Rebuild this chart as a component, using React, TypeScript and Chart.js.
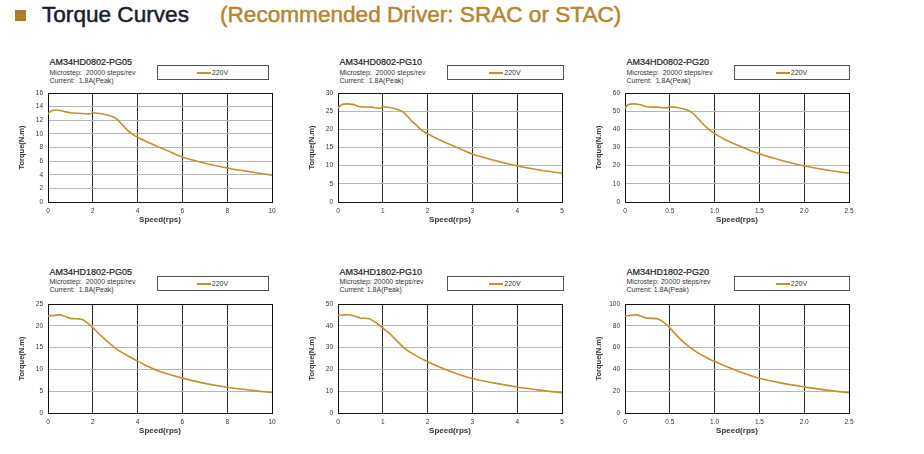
import React, { useEffect, useRef } from "react";
import { Chart, registerables } from "chart.js";

Chart.register(...registerables);

// ---------- data ----------
const speed0802PG05 = [0, 0.15, 0.4, 0.7, 1.0, 1.5, 1.85, 2.0, 2.3, 2.6, 2.9, 3.1, 3.3, 3.5, 3.7, 4.0, 4.5, 5, 5.5, 6, 7, 8, 9, 10];
const torque0802PG05 = [12.9, 13.4, 13.5, 13.3, 13.1, 13.0, 12.9, 13.1, 13.0, 12.8, 12.5, 12.1, 11.4, 10.7, 10.1, 9.5, 8.7, 8.0, 7.3, 6.6, 5.7, 5.0, 4.45, 3.95];

const speed0802PG10 = [0, 0.07, 0.2, 0.35, 0.5, 0.75, 0.93, 1.0, 1.15, 1.3, 1.45, 1.55, 1.65, 1.75, 1.85, 2.0, 2.25, 2.5, 2.75, 3, 3.5, 4, 4.5, 5];
const torque0802PG10 = [25.8, 26.7, 27.0, 26.8, 26.2, 26.1, 25.8, 26.2, 26.0, 25.6, 24.8, 23.6, 22.2, 21.2, 19.9, 18.8, 17.2, 15.8, 14.5, 13.2, 11.4, 9.9, 8.8, 7.9];

const speed0802PG20 = [0, 0.03, 0.1, 0.17, 0.25, 0.35, 0.47, 0.5, 0.58, 0.66, 0.74, 0.8, 0.86, 0.93, 1.0, 1.12, 1.25, 1.5, 1.75, 2.0, 2.25, 2.5];
const torque0802PG20 = [51.5, 53.5, 54.0, 53.5, 52.4, 52.2, 51.8, 52.5, 52.0, 51.2, 49.5, 46.8, 43.5, 40.2, 37.6, 34.3, 31.4, 26.5, 22.8, 19.8, 17.6, 15.8];

const speed1802PG05 = [0, 0.3, 0.5, 0.8, 1.0, 1.3, 1.5, 1.7, 2.0, 2.25, 2.5, 3.0, 3.5, 4.0, 4.5, 5, 6, 7, 8, 9, 10];
const torque1802PG05 = [22.3, 22.4, 22.5, 22.1, 21.7, 21.6, 21.5, 20.9, 19.6, 18.3, 17.1, 14.9, 13.3, 11.9, 10.6, 9.5, 8.0, 6.8, 5.9, 5.25, 4.7];

const speed1802PG10 = [0, 0.15, 0.25, 0.4, 0.5, 0.7, 0.8, 0.9, 1.0, 1.15, 1.3, 1.5, 1.75, 2.0, 2.5, 3, 3.5, 4, 4.5, 5];
const torque1802PG10 = [44.8, 45.0, 45.1, 44.2, 43.6, 43.2, 42.0, 40.6, 39.0, 36.5, 33.4, 29.4, 26.2, 23.5, 19.2, 15.8, 13.7, 11.9, 10.5, 9.3];

const speed1802PG20 = [0, 0.06, 0.12, 0.2, 0.25, 0.35, 0.4, 0.45, 0.5, 0.55, 0.62, 0.7, 0.8, 0.9, 1.0, 1.25, 1.5, 1.75, 2.0, 2.25, 2.5];
const torque1802PG20 = [89, 89.6, 90, 88.2, 87, 86.6, 85.0, 82.0, 78.2, 73.5, 67.5, 61.8, 55.8, 51.2, 47.2, 38.8, 31.8, 27.4, 24.0, 21.0, 18.6];

const speeds = [speed0802PG05, speed0802PG10, speed0802PG20, speed1802PG05, speed1802PG10, speed1802PG20];
const torques = [torque0802PG05, torque0802PG10, torque0802PG20, torque1802PG05, torque1802PG10, torque1802PG20];

const modelNames = ["AM34HD0802-PG05", "AM34HD0802-PG10", "AM34HD0802-PG20", "AM34HD1802-PG05", "AM34HD1802-PG10", "AM34HD1802-PG20"];
const microstepLabels = [
  "Microstep:  20000 steps/rev",
  "Microstep:  20000 steps/rev",
  "Microstep:  20000 steps/rev",
  "Microstep:  20000 steps/rev",
  "Microstep: 20000 steps/rev",
  "Microstep: 20000 steps/rev",
];
const currentLabels = [
  "Current:  1.8A(Peak)",
  "Current:  1.8A(Peak)",
  "Current:  1.8A(Peak)",
  "Current:  1.8A(Peak)",
  "Current: 1.8A(Peak)",
  "Current: 1.8A(Peak)",
];
const xMaxes = [10, 5, 2.5, 10, 5, 2.5];
const xSteps = [2, 1, 0.5, 2, 1, 0.5];
const yMaxes = [16, 30, 60, 25, 50, 100];
const ySteps = [2, 5, 10, 5, 10, 20];
const seriesLabel = "220V";
const xTitle = "Speed(rps)";
const yTitle = "Torque(N.m)";
const pageTitle = "Torque Curves";
const pageSubtitle = "(Recommended Driver: SRAC or STAC)";

// ---------- style / layout ----------
const FONT = "'Liberation Sans', Arial, Helvetica, sans-serif";
const LINE = "#C4902E";
const ORANGE = "#B8842C";

const colLeft = [48, 338, 625];
const rowTop = [93, 304];
const legendWidths = [112, 117, 116];
const PW = 224;
const PH = 109;
const YW = 34;
const XH = 24;
const PT = 10;
const PR = 10;

const framePlugin = {
  id: "frame",
  beforeDatasetsDraw(chart: any) {
    const { ctx, chartArea } = chart;
    const { left, top, right, bottom } = chartArea;
    ctx.save();
    ctx.strokeStyle = "#111";
    ctx.lineWidth = 1;
    ctx.strokeRect(left + 0.5, top + 0.5, right - left, bottom - top);
    ctx.restore();
  },
};

export default function App() {
  const refs = useRef<(HTMLCanvasElement | null)[]>([]);

  useEffect(() => {
    Chart.defaults.font.family = FONT;
    const charts: Chart[] = [];
    for (let i = 0; i < 6; i++) {
      const cv = refs.current[i];
      if (!cv) continue;
      const pts = speeds[i].map((s, k) => ({ x: s, y: torques[i][k] }));
      const ch = new Chart(cv, {
        type: "line",
        data: {
          datasets: [
            {
              label: seriesLabel,
              data: pts,
              borderColor: LINE,
              backgroundColor: LINE,
              borderWidth: 1.6,
              pointRadius: 0,
              tension: 0.4,
              cubicInterpolationMode: "monotone",
              fill: false,
            },
          ],
        },
        options: {
          animation: false,
          responsive: false,
          maintainAspectRatio: false,
          devicePixelRatio: 1,
          layout: { padding: { top: PT, right: PR, left: 0, bottom: 0 } },
          plugins: { legend: { display: false }, tooltip: { enabled: false } },
          scales: {
            x: {
              type: "linear",
              min: 0,
              max: xMaxes[i],
              ticks: {
                stepSize: xSteps[i],
                autoSkip: false,
                maxRotation: 0,
                padding: 5,
                color: "#333",
                font: { size: 6.5, family: FONT },
              },
              grid: { color: "#2a2a2a", lineWidth: 1, drawTicks: false },
              border: { color: "#111", width: 1 },
              title: {
                display: true,
                text: xTitle,
                color: "#333",
                font: { size: 8, weight: "bold", family: FONT },
                padding: { top: 0, bottom: 1.3 },
              },
              afterFit: (s: any) => {
                s.height = XH;
              },
            },
            y: {
              type: "linear",
              min: 0,
              max: yMaxes[i],
              ticks: {
                stepSize: ySteps[i],
                padding: 5,
                color: "#333",
                font: { size: 6.5, family: FONT },
              },
              grid: { color: "#b5b5b5", lineWidth: 1, drawTicks: false },
              border: { color: "#111", width: 1 },
              title: {
                display: true,
                text: yTitle,
                color: "#333",
                font: { size: 7.5, weight: "bold", family: FONT },
                padding: { top: 3, bottom: 0 },
              },
              afterFit: (s: any) => {
                s.width = YW;
              },
            },
          },
        } as any,
        plugins: [framePlugin],
      });
      charts.push(ch);
    }
    return () => charts.forEach((c) => c.destroy());
  }, []);

  const cw = YW + PW + PR;
  const chh = PT + PH + XH;

  const panels = [0, 1, 2, 3, 4, 5].map((i) => {
    const col = i % 3;
    const row = Math.floor(i / 3);
    const pl = colLeft[col];
    const pt = rowTop[row];
    const titleC = row === 0 ? pt - 30.3 : pt - 31.7;
    const microC = row === 0 ? pt - 20.7 : pt - 22.5;
    const curC = row === 0 ? pt - 12.3 : pt - 14.2;
    const lx = pl + 108.5;
    return (
      <React.Fragment key={i}>
        <div
          style={{
            position: "absolute",
            left: pl + 1.5,
            top: titleC - 4.5,
            fontSize: 9,
            lineHeight: "9px",
            color: "#1a1a1a",
            whiteSpace: "pre",
            WebkitTextStroke: "0.2px #1a1a1a",
          }}
        >
          {modelNames[i]}
        </div>
        <div
          style={{
            position: "absolute",
            left: pl + 1.5,
            top: microC - 3.5,
            fontSize: 7,
            lineHeight: "7px",
            color: "#333",
            whiteSpace: "pre",
          }}
        >
          {microstepLabels[i]}
        </div>
        <div
          style={{
            position: "absolute",
            left: pl + 1.5,
            top: curC - 3.5,
            fontSize: 7,
            lineHeight: "7px",
            color: "#333",
            whiteSpace: "pre",
          }}
        >
          {currentLabels[i]}
        </div>
        <div
          style={{
            position: "absolute",
            left: lx,
            top: pt - 28,
            width: legendWidths[col],
            height: 15,
            boxSizing: "border-box",
            border: "1px solid #555",
            display: "flex",
            alignItems: "center",
            justifyContent: "center",
          }}
        >
          <span style={{ display: "inline-block", width: 14, height: 2, background: LINE }} />
          <span style={{ fontSize: 7, lineHeight: "7px", color: "#333", marginLeft: 1 }}>{seriesLabel}</span>
        </div>
        <canvas
          ref={(el) => {
            refs.current[i] = el;
          }}
          width={cw}
          height={chh}
          style={{
            position: "absolute",
            left: pl - YW,
            top: pt - PT,
            width: cw,
            height: chh,
          }}
        />
      </React.Fragment>
    );
  });

  return (
    <div
      style={{
        position: "absolute",
        left: 0,
        top: 0,
        width: 924,
        height: 454,
        background: "#fff",
        fontFamily: FONT,
        overflow: "hidden",
      }}
    >
      <div style={{ position: "absolute", left: 15, top: 10, width: 11, height: 11, background: "#B07C2A" }} />
      <div
        style={{
          position: "absolute",
          left: 42,
          top: 3.6,
          fontSize: 22.6,
          lineHeight: "22.6px",
          color: "#1c1c2c",
          whiteSpace: "pre",
          WebkitTextStroke: "0.5px #1c1c2c",
        }}
      >
        {pageTitle}
      </div>
      <div
        style={{
          position: "absolute",
          left: 220,
          top: 3.6,
          fontSize: 22.6,
          lineHeight: "22.6px",
          color: ORANGE,
          whiteSpace: "pre",
          WebkitTextStroke: "0.5px " + ORANGE,
        }}
      >
        {pageSubtitle}
      </div>
      {panels}
    </div>
  );
}
